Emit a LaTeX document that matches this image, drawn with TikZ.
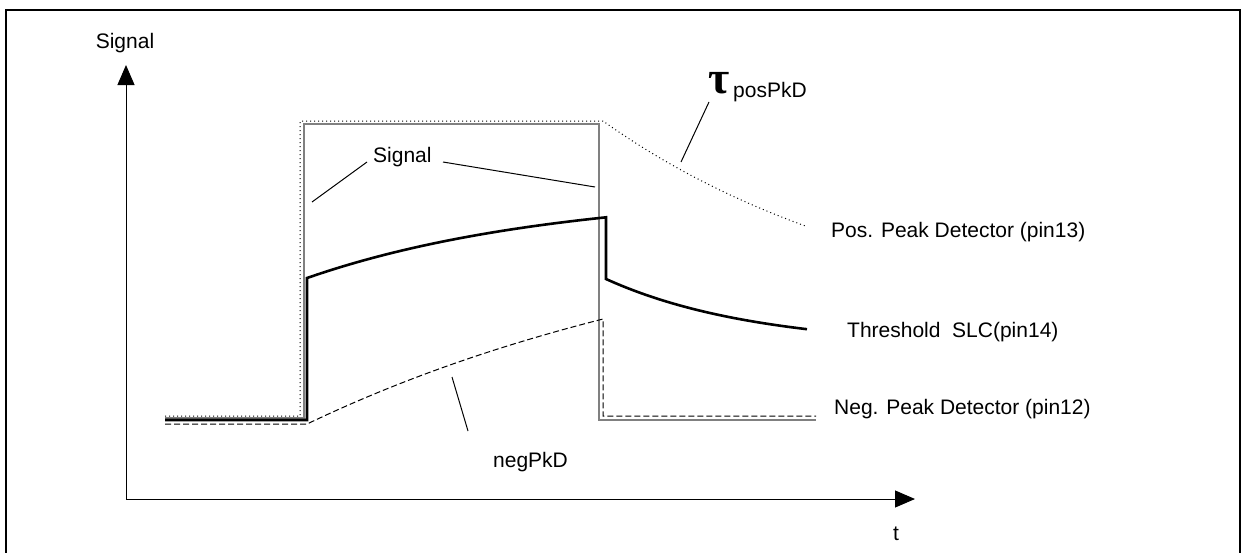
\documentclass[tikz,border=0pt]{standalone}
\usepackage{fontspec}
\setmainfont{Liberation Sans}
\newfontfamily\taufont{Liberation Serif}
\usetikzlibrary{arrows.meta}
\tikzset{
  lbl/.style={anchor=base west, inner sep=0pt, font=\fontsize{21}{21}\selectfont},
  axisline/.style={line width=1pt, -{Triangle[length=20pt,width=17pt]}},
  leader/.style={line width=1pt},
  sigline/.style={line width=1.5pt, draw={rgb,255:red,128;green,128;blue,128}},
  posline/.style={line width=1pt, dash pattern=on 1pt off 3pt},
  negline/.style={line width=1pt, dash pattern=on 6pt off 3pt},
  thrline/.style={line width=2.6pt, line join=miter},
}
\begin{document}
\begin{tikzpicture}[x=1pt,y=-1pt]
\useasboundingbox (0,0) rectangle (1244,552);
% frame
\draw[line width=1.5pt] (6,560) -- (6,10) -- (1240,10) -- (1240,560);
% axes
\coordinate (O) at (126,499);
\coordinate (ytip) at (126,65);
\coordinate (xtip) at (915,499);
\draw[axisline] (O) -- (ytip);
\draw[axisline] (O) -- (xtip);
\node[lbl, anchor=base] (ylab) at (125,48) {Signal};
\node[lbl, anchor=base] (xlab) at (896,540) {t};
% signal (gray)
\draw[sigline] (165,418) -- (304,418) -- (304,124) -- (599,124) -- (599,420) -- (816,420);
% positive peak detector (dotted)
\draw[posline] (165,416) -- (300,416) -- (300,121) -- (603,121)
  -- plot[domain=603:805, samples=60] (\x, {121+214*(1-exp(-(\x-603)/300))});
% negative peak detector (dashed)
\draw[negline] (165,424) -- (307,424)
  -- plot[domain=307:603, samples=60] (\x, {424-223*(1-exp(-(\x-307)/465))})
  -- (603,416) -- (816,416);
% threshold (thick)
\draw[thrline] (165,420) -- (307,420) -- (307,278)
  -- plot[domain=307:606, samples=60] (\x, {278-87*(1-exp(-(\x-307)/250))})
  -- (606,279)
  -- plot[domain=606:807, samples=60] (\x, {279+68*(1-exp(-(\x-606)/150))});
% labels
\node[lbl] (pos) at (831,237) {Pos. Peak Detector (pin13)};
\node[lbl] (thr) at (847,337) {Threshold\ \ SLC(pin14)};
\node[lbl] (neg) at (834,414) {Neg. Peak Detector (pin12)};
\node[lbl] (neglab) at (493,467) {negPkD};
\node[lbl] (siglab) at (373,162) {Signal};
\node[anchor=base west, inner sep=0pt, font=\taufont\bfseries\fontsize{46}{46}\selectfont] (tau) at (708,93) {τ};
\node[lbl] (taus) at (733,97) {posPkD};
% leaders
\coordinate (sigA) at (312,202);
\coordinate (sigAs) at (367,162);
\coordinate (sigB) at (595,187);
\coordinate (sigBs) at (443,162);
\coordinate (tauA) at (709,102);
\coordinate (tauB) at (681,162);
\coordinate (negA) at (452,377);
\coordinate (negB) at (468,431);
\draw[leader] (sigAs) -- (sigA);
\draw[leader] (sigBs) -- (sigB);
\draw[leader] (tauA) -- (tauB);
\draw[leader] (negA) -- (negB);
\end{tikzpicture}
\end{document}
